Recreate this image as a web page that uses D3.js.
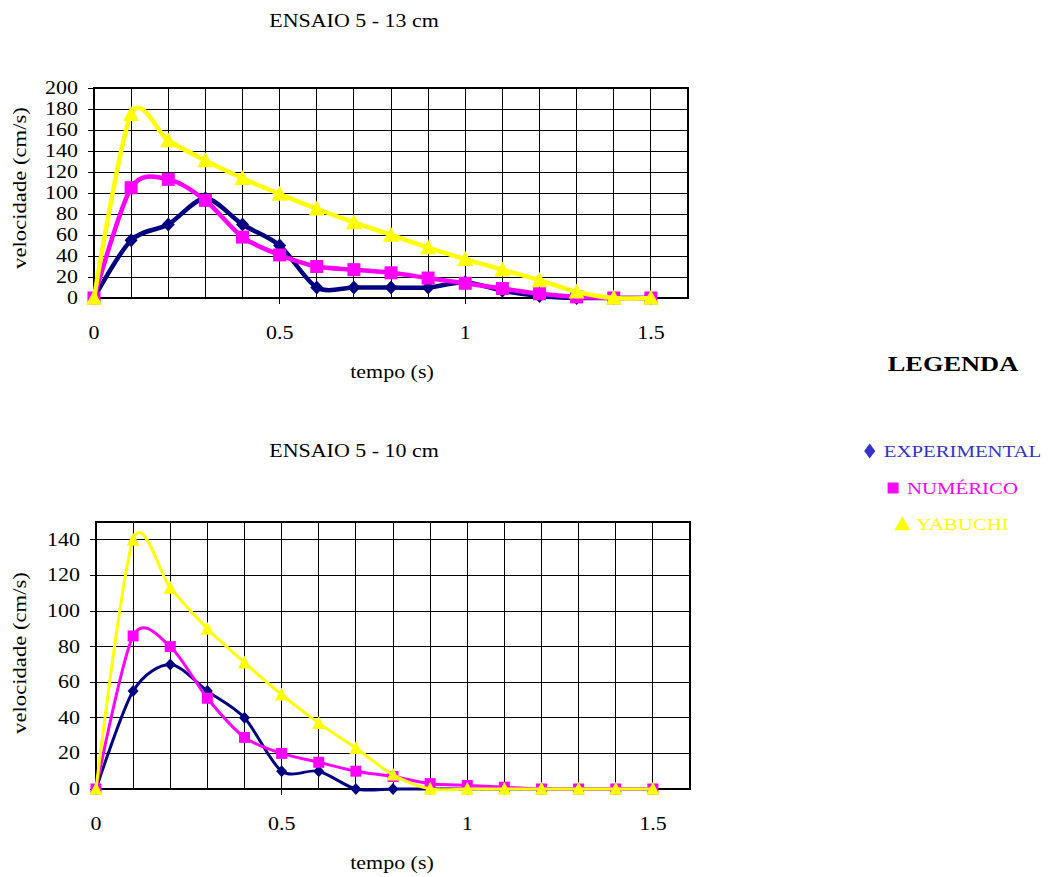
<!DOCTYPE html>
<html>
<head>
<meta charset="utf-8">
<script src="https://cdn.jsdelivr.net/npm/d3@7"></script>
<style>
  body { margin: 0; background: #fff; }
  svg { display: block; }
</style>
</head>
<body>
<svg id="chart" width="1050" height="877"></svg>
<script>
// Time samples (s)
const tempo = [0, 0.1, 0.2, 0.3, 0.4, 0.5, 0.6, 0.7, 0.8, 0.9, 1.0, 1.1, 1.2, 1.3, 1.4, 1.5];

// ENSAIO 5 - 13 cm : velocity (cm/s)
const experimental13 = [0, 55, 70, 95, 70, 50, 10, 10, 10, 10, 15, 7, 2, 0, 0, 0];
const numerico13     = [0, 105, 113, 93, 58, 41, 30, 27, 24, 19, 14, 9, 4, 1, 0, 0];
const yabuchi13      = [0, 175, 150, 131, 114, 99, 85, 72, 60, 48, 37, 27, 17, 6, 0, 0];

// ENSAIO 5 - 10 cm : velocity (cm/s)
const experimental10 = [0, 55, 70, 55, 40, 10, 10, 0, 0, 0, 0, 0, 0, 0, 0, 0];
const numerico10     = [0, 86, 80, 51, 29, 20, 15, 10, 7, 3, 2, 1, 0, 0, 0, 0];
const yabuchi10      = [0, 140, 113, 90, 71, 53, 37, 23, 8, 0, 0, 0, 0, 0, 0, 0];

// Axis ticks
const xTickLabels = [0, 0.5, 1, 1.5];
const xGrid = [0.1, 0.2, 0.3, 0.4, 0.5, 0.6, 0.7, 0.8, 0.9, 1.0, 1.1, 1.2, 1.3, 1.4, 1.5];
const yTicks13 = [0, 20, 40, 60, 80, 100, 120, 140, 160, 180, 200];
const yTicks10 = [0, 20, 40, 60, 80, 100, 120, 140];

// Series
const seriesNames  = ["EXPERIMENTAL", "NUMÉRICO", "YABUCHI"];
const seriesColors = ["#000080", "#FF00FF", "#FFFF00"];
const legendColors = ["#3333CC", "#FF00FF", "#FFFF00"];
const seriesShapes = ["diamond", "square", "triangle"];

const FONT = "'Liberation Serif', 'Times New Roman', serif";
const svg = d3.select("#chart");

// Text drawn with a slight horizontal widening, as in the printed charts
function label(g, str, x, y, o = {}) {
  const size = o.size || 18, sx = o.sx || 1.22, rot = o.rotate || 0;
  return g.append("text")
    .attr("transform", `translate(${x},${y}) rotate(${rot}) scale(${sx},1)`)
    .attr("text-anchor", o.anchor || "middle")
    .attr("font-family", FONT)
    .attr("font-size", size)
    .attr("font-weight", o.weight || "normal")
    .attr("fill", o.fill || "#000")
    .text(str);
}

function markerPath(shape, s) {
  if (shape === "diamond") {
    return `M0,${-s.dh}L${s.dw},0L0,${s.dh}L${-s.dw},0Z`;
  }
  if (shape === "square") {
    const h = s.sq / 2;
    return `M${-h},${-h}H${h}V${h}H${-h}Z`;
  }
  const w = s.tw / 2;
  return `M0,${-s.th * 0.55}L${w},${s.th * 0.45}L${-w},${s.th * 0.45}Z`;
}

function drawPanel(p) {
  const g = svg.append("g");
  const x = d3.scaleLinear().domain([0, 1.6]).range([p.left, p.right]);
  const y = d3.scaleLinear().domain([0, p.yMax]).range([p.bottom, p.top]);

  // title
  label(g, p.title, 354, p.titleY);

  // grid
  g.append("g").selectAll("line.v").data(xGrid).join("line")
    .attr("x1", d => x(d)).attr("x2", d => x(d))
    .attr("y1", p.top).attr("y2", p.bottom)
    .attr("stroke", "#000").attr("stroke-width", 1).attr("shape-rendering", "crispEdges");
  g.append("g").selectAll("line.h").data(p.yTicks.filter(v => v > 0 && v < p.yMax)).join("line")
    .attr("x1", p.left).attr("x2", p.right)
    .attr("y1", d => y(d)).attr("y2", d => y(d))
    .attr("stroke", "#000").attr("stroke-width", 1).attr("shape-rendering", "crispEdges");

  // frame
  g.append("rect")
    .attr("x", p.left).attr("y", p.top)
    .attr("width", p.right - p.left).attr("height", p.bottom - p.top)
    .attr("fill", "none").attr("stroke", "#000").attr("stroke-width", 2);

  // y axis ticks and labels
  g.append("g").selectAll("line").data(p.yTicks).join("line")
    .attr("x1", p.left - 6).attr("x2", p.left)
    .attr("y1", d => y(d)).attr("y2", d => y(d))
    .attr("stroke", "#000").attr("stroke-width", 1).attr("shape-rendering", "crispEdges");
  p.yTicks.forEach(v => label(g, String(v), p.left - 16, y(v) + 6, { anchor: "end" }));

  // x axis ticks and labels
  g.append("g").selectAll("line").data(xTickLabels).join("line")
    .attr("x1", d => x(d)).attr("x2", d => x(d))
    .attr("y1", p.bottom).attr("y2", p.bottom + 6)
    .attr("stroke", "#000").attr("stroke-width", 1).attr("shape-rendering", "crispEdges");
  xTickLabels.forEach(v => label(g, String(v), x(v), p.bottom + 41));

  // axis titles
  label(g, "tempo (s)", 392, p.bottom + 80);
  label(g, "velocidade (cm/s)", 26, p.yLabelY, { rotate: -90, sx: 1.26 });

  // series: smoothed lines with markers on each sample
  const line = d3.line()
    .x((d, i) => x(tempo[i]))
    .y(d => y(d))
    .curve(d3.curveCardinal.tension(0.15));

  p.series.forEach((vals, k) => {
    g.append("path")
      .attr("d", line(vals))
      .attr("fill", "none")
      .attr("stroke", seriesColors[k])
      .attr("stroke-width", p.lineW)
      .attr("stroke-linejoin", "round");
    g.append("g").selectAll("path").data(vals).join("path")
      .attr("transform", (d, i) => `translate(${x(tempo[i])},${y(d)})`)
      .attr("d", markerPath(seriesShapes[k], p.marker))
      .attr("fill", seriesColors[k]);
  });
}

drawPanel({
  title: "ENSAIO 5 - 13 cm", titleY: 27,
  left: 94, right: 688, top: 88, bottom: 298, yMax: 200,
  yTicks: yTicks13, yLabelY: 188,
  series: [experimental13, numerico13, yabuchi13],
  lineW: 4.5,
  marker: { dw: 6.5, dh: 7, sq: 13, tw: 16, th: 15 }
});

drawPanel({
  title: "ENSAIO 5 - 10 cm", titleY: 457,
  left: 96, right: 690, top: 522, bottom: 789, yMax: 150,
  yTicks: yTicks10, yLabelY: 653,
  series: [experimental10, numerico10, yabuchi10],
  lineW: 3,
  marker: { dw: 5.5, dh: 6, sq: 11, tw: 13, th: 13 }
});

// legend
const lg = svg.append("g");
label(lg, "LEGENDA", 953, 371, { size: 22, weight: "bold", sx: 1.2 });
const legendRows = [451, 488, 524];
const legendMark = { dw: 5.5, dh: 7.5, sq: 11, tw: 16, th: 14 };
seriesNames.forEach((name, k) => {
  const t = label(lg, name, 0, 0, { size: 16.5, sx: 1.26, anchor: "start", fill: legendColors[k] });
  const w = t.node().getComputedTextLength() * 1.26;
  const gap = 19;
  const startX = 953 - (gap + w) / 2;
  t.attr("transform", `translate(${startX + gap},${legendRows[k] + 6}) scale(1.26,1)`);
  lg.append("path")
    .attr("transform", `translate(${startX + 5},${legendRows[k]})`)
    .attr("d", markerPath(seriesShapes[k], legendMark))
    .attr("fill", legendColors[k]);
});
</script>
</body>
</html>
